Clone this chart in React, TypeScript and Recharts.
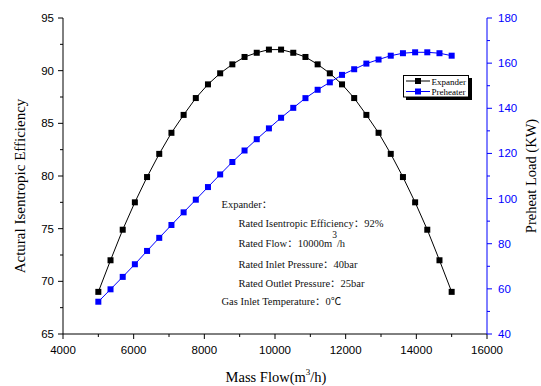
import React from 'react';
import { ComposedChart, Line, XAxis, YAxis } from 'recharts';

const massFlow = [5000, 5345, 5690, 6034, 6379, 6724, 7069, 7414, 7759, 8103, 8448, 8793, 9138, 9483, 9828, 10172, 10517, 10862, 11207, 11552, 11897, 12241, 12586, 12931, 13276, 13621, 13966, 14310, 14655, 15000];
const efficiency = [69.0, 72.0, 74.9, 77.5, 79.9, 82.1, 84.1, 85.8, 87.4, 88.7, 89.75, 90.6, 91.3, 91.7, 92.0, 92.0, 91.7, 91.3, 90.6, 89.75, 88.7, 87.4, 85.8, 84.1, 82.1, 79.9, 77.5, 74.9, 72.0, 69.0];
const preheatLoad = [54.3, 59.8, 65.3, 70.9, 76.8, 82.6, 88.3, 93.9, 99.5, 105.1, 110.7, 116.2, 121.3, 126.3, 131.1, 135.8, 140.2, 144.5, 148.2, 151.5, 154.8, 157.3, 159.8, 161.6, 163.3, 164.4, 164.8, 164.8, 164.4, 163.3];

const xTicks = [4000, 5000, 6000, 7000, 8000, 9000, 10000, 11000, 12000, 13000, 14000, 15000, 16000];
const leftTicks = [65, 67.5, 70, 72.5, 75, 77.5, 80, 82.5, 85, 87.5, 90, 92.5, 95];
const rightTicks = [40, 50, 60, 70, 80, 90, 100, 110, 120, 130, 140, 150, 160, 170, 180];

const annotation = [
  'Expander：',
  'Rated Isentropic Efficiency：92%',
  'Rated Flow：10000m',
  'Rated Inlet Pressure：40bar',
  'Rated Outlet Pressure：25bar',
  'Gas Inlet Temperature：0℃',
];

const data = massFlow.map((x, i) => ({ x, eff: efficiency[i], load: preheatLoad[i] }));

const BLUE = '#0000ff';
const SANS = '"Liberation Sans", Arial, sans-serif';
const SERIF = '"Liberation Serif", "Times New Roman", "Noto Sans CJK SC", serif';

const BottomTick = (props: any) => {
  const { x, y, payload } = props;
  const major = payload.value % 2000 === 0;
  return (
    <g>
      <line x1={x} x2={x} y1={y} y2={y + (major ? 5 : 3)} stroke="#000" strokeWidth={1} />
      {major && (
        <text x={x} y={y + 19.5} textAnchor="middle" fontFamily={SANS} fontSize={11.5} fill="#000">
          {payload.value}
        </text>
      )}
    </g>
  );
};

const TopTick = (props: any) => {
  const { x, y, payload } = props;
  const major = payload.value % 2000 === 0;
  return <line x1={x} x2={x} y1={y} y2={y + (major ? 5 : 3)} stroke="#000" strokeWidth={1} />;
};

const LeftTick = (props: any) => {
  const { x, y, payload } = props;
  const major = payload.value % 5 === 0;
  return (
    <g>
      <line x1={x - (major ? 5 : 3)} x2={x} y1={y} y2={y} stroke="#000" strokeWidth={1} />
      {major && (
        <text x={x - 9} y={y + 4} textAnchor="end" fontFamily={SANS} fontSize={11.5} fill="#000">
          {payload.value}
        </text>
      )}
    </g>
  );
};

const RightTick = (props: any) => {
  const { x, y, payload } = props;
  const major = payload.value % 20 === 0;
  return (
    <g>
      <line x1={x} x2={x + (major ? 5 : 3)} y1={y} y2={y} stroke={BLUE} strokeWidth={1} />
      {major && (
        <text x={x + 11} y={y + 4} textAnchor="start" fontFamily={SANS} fontSize={11.5} fill={BLUE}>
          {payload.value}
        </text>
      )}
    </g>
  );
};

const squareDot = (color: string) => (props: any) => {
  const { cx, cy, index } = props;
  return <rect key={index} x={cx - 3} y={cy - 3} width={6} height={6} fill={color} />;
};

export default function App() {
  return (
    <div style={{ position: 'absolute', left: 0, top: 0, width: 541, height: 386, background: '#fff' }}>
      <ComposedChart
        width={541}
        height={386}
        data={data}
        margin={{ top: 18, right: 14, bottom: 22, left: 13 }}
      >
        <XAxis
          xAxisId="b"
          dataKey="x"
          type="number"
          domain={[4000, 16000]}
          ticks={xTicks}
          interval={0}
          height={30}
          tickSize={0}
          tickMargin={0}
          tickLine={false}
          stroke="#000"
          tick={<BottomTick />}
        />
        <XAxis
          xAxisId="t"
          orientation="top"
          dataKey="x"
          type="number"
          domain={[4000, 16000]}
          ticks={xTicks}
          interval={0}
          height={0}
          tickSize={0}
          tickMargin={0}
          tickLine={false}
          stroke="#000"
          tick={<TopTick />}
        />
        <YAxis
          yAxisId="l"
          type="number"
          domain={[65, 95]}
          ticks={leftTicks}
          interval={0}
          width={50}
          tickSize={0}
          tickMargin={0}
          tickLine={false}
          stroke="#000"
          tick={<LeftTick />}
        />
        <YAxis
          yAxisId="r"
          orientation="right"
          type="number"
          domain={[40, 180]}
          ticks={rightTicks}
          interval={0}
          width={40}
          tickSize={0}
          tickMargin={0}
          tickLine={false}
          stroke={BLUE}
          tick={<RightTick />}
        />
        <Line
          xAxisId="b"
          yAxisId="l"
          dataKey="eff"
          type="linear"
          stroke="#000"
          strokeWidth={1}
          dot={squareDot('#000')}
          activeDot={false}
          isAnimationActive={false}
        />
        <Line
          xAxisId="b"
          yAxisId="r"
          dataKey="load"
          type="linear"
          stroke={BLUE}
          strokeWidth={1}
          dot={squareDot(BLUE)}
          activeDot={false}
          isAnimationActive={false}
        />
      </ComposedChart>
      <svg
        width={541}
        height={386}
        style={{ position: 'absolute', left: 0, top: 0, pointerEvents: 'none' }}
      >
        {/* axis titles */}
        <text
          x={25}
          y={186}
          transform="rotate(-90 25 186)"
          textAnchor="middle"
          fontFamily={SERIF}
          fontSize={15}
          fill="#000"
        >
          Actural Isentropic Efficiency
        </text>
        <text
          x={536}
          y={176}
          transform="rotate(-90 536 176)"
          textAnchor="middle"
          fontFamily={SERIF}
          fontSize={14.5}
          fill="#000"
        >
          Preheat Load (KW)
        </text>
        <text x={276} y={382} textAnchor="middle" fontFamily={SERIF} fontSize={14.5} fill="#000">
          Mass Flow(m<tspan dy={-7} fontSize={9}>3</tspan>
          <tspan dy={7}>/h)</tspan>
        </text>

        {/* legend */}
        <rect x={406} y={78} width={66} height={22} fill="#000" />
        <rect x={403.5} y={75.5} width={65} height={21.5} fill="#fff" stroke="#000" strokeWidth={1} />
        <line x1={406} x2={430} y1={81} y2={81} stroke="#000" strokeWidth={1} />
        <rect x={415} y={78} width={6} height={6} fill="#000" />
        <text x={431.5} y={84.5} fontFamily={SERIF} fontSize={9} fill="#000">Expander</text>
        <line x1={406} x2={430} y1={91.5} y2={91.5} stroke={BLUE} strokeWidth={1} />
        <rect x={415} y={88.5} width={6} height={6} fill={BLUE} />
        <text x={431.5} y={95} fontFamily={SERIF} fontSize={9} fill="#000">Preheater</text>

        {/* annotation */}
        <g fontFamily={SERIF} fontSize={10.5} fill="#111">
          <text x={221.5} y={208}>{annotation[0]}</text>
          <text x={238.5} y={227.3}>{annotation[1]}</text>
          <text x={238.5} y={247.3}>
            {annotation[2]}
            <tspan dy={-9} fontSize={9.5}>3</tspan>
            <tspan dy={9}>/h</tspan>
          </text>
          <text x={238.5} y={267.5}>{annotation[3]}</text>
          <text x={238.5} y={286.7}>{annotation[4]}</text>
          <text x={221.5} y={305}>{annotation[5]}</text>
        </g>
      </svg>
    </div>
  );
}
